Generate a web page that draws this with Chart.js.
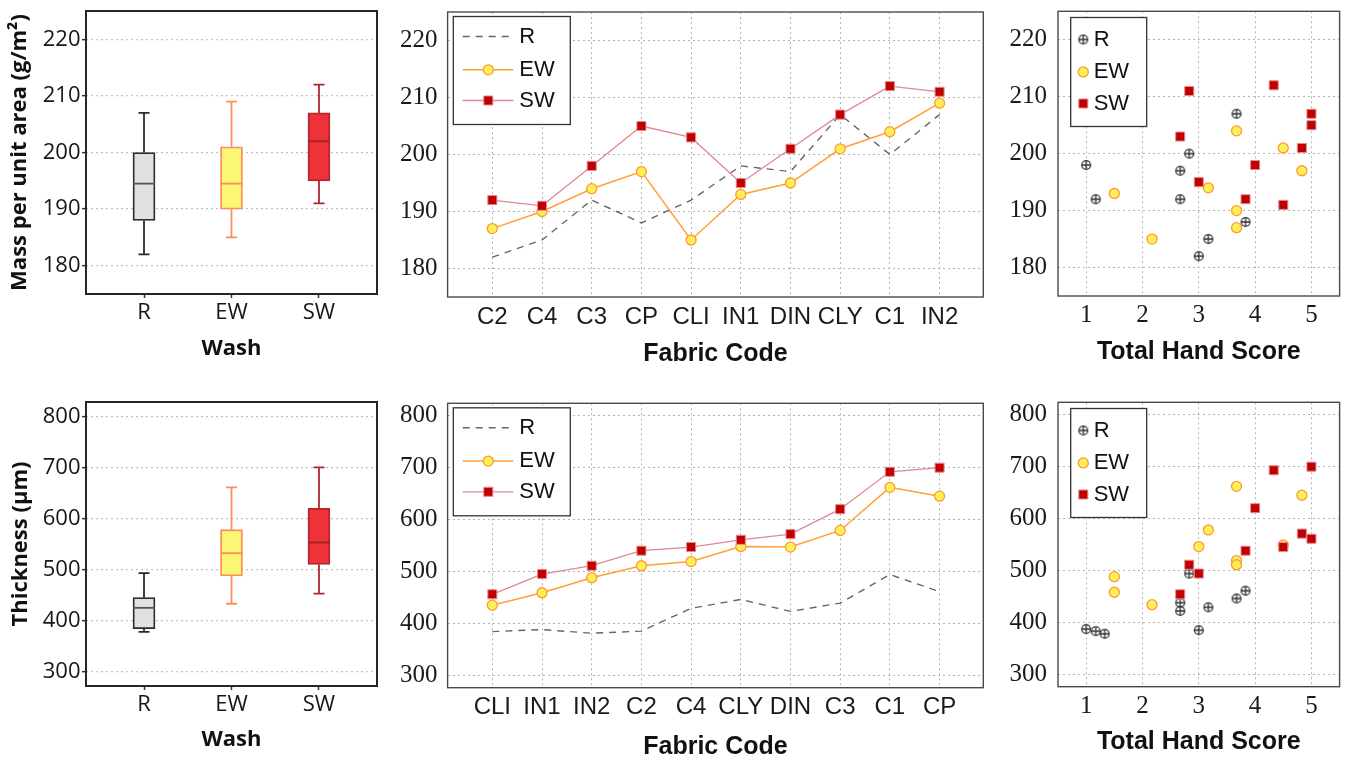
<!DOCTYPE html>
<html><head><meta charset="utf-8">
<script src="https://cdn.jsdelivr.net/npm/chart.js@4/dist/chart.umd.min.js"></script>
<style>
html,body{margin:0;padding:0;background:#fff;overflow:hidden;width:1347px;height:758px;}
canvas{position:absolute;}
</style></head><body>
<canvas id="cA" width="400" height="390" style="left:0px;top:0px;width:400px;height:390px"></canvas>
<canvas id="cB" width="610" height="390" style="left:390px;top:0px;width:610px;height:390px"></canvas>
<canvas id="cC" width="347" height="390" style="left:1000px;top:0px;width:347px;height:390px"></canvas>
<canvas id="cD" width="400" height="390" style="left:0px;top:379px;width:400px;height:390px"></canvas>
<canvas id="cE" width="610" height="390" style="left:390px;top:379px;width:610px;height:390px"></canvas>
<canvas id="cF" width="347" height="390" style="left:1000px;top:379px;width:347px;height:390px"></canvas>
<script>
// ---------------- DATA ----------------
const washLabels = ['R', 'EW', 'SW'];
const washPos = [1, 2, 3];

// Box plots: mass per unit area
const massBoxMin = [182, 185, 191];
const massBoxQ1  = [188, 190, 195];
const massBoxMed = [194.5, 194.5, 202];
const massBoxQ3  = [200, 201, 207];
const massBoxMax = [207, 209, 212];
// Box plots: thickness
const thickBoxMin = [378, 433, 453];
const thickBoxQ1  = [384, 487.5, 510];
const thickBoxMed = [425, 532, 553];
const thickBoxQ3  = [445, 578, 620];
const thickBoxMax = [493, 661, 700];

const massTicks  = [180, 190, 200, 210, 220];
const thickTicks = [300, 400, 500, 600, 700, 800];

// Line charts: mass by fabric
const massFabrics = ['C2', 'C4', 'C3', 'CP', 'CLI', 'IN1', 'DIN', 'CLY', 'C1', 'IN2'];
const massR  = [182, 185, 192, 188, 192, 198, 197, 207, 200, 207];
const massEW = [187, 190, 194, 197, 185, 193, 195, 201, 204, 209];
const massSW = [192, 191, 198, 205, 203, 195, 201, 207, 212, 211];
// Line charts: thickness by fabric
const thickFabrics = ['CLI', 'IN1', 'IN2', 'C2', 'C4', 'CLY', 'DIN', 'C3', 'C1', 'CP'];
const thickR  = [384, 388, 381, 385, 429, 446, 423, 439, 494, 461];
const thickEW = [435, 459, 488, 511, 519, 548, 547, 579, 662, 645];
const thickSW = [456, 495, 511, 540, 547, 561, 572, 620, 692, 700];

// Scatter: total hand score vs mass
const handTicks = [1, 2, 3, 4, 5];
const massHandR_x  = [1, 1.17, 2.67, 2.67, 2.83, 3, 3.17, 3.67, 3.83];
const massHandR_y  = [198, 192, 197, 192, 200, 182, 185, 207, 188];
const massHandEW_x = [1.5, 2.17, 3.17, 3.67, 3.67, 3.67, 4.5, 4.83];
const massHandEW_y = [193, 185, 194, 204, 190, 187, 201, 197];
const massHandSW_x = [2.83, 2.67, 3, 4.33, 5, 5, 4.83, 4, 3.83, 4.5];
const massHandSW_y = [211, 203, 195, 212, 207, 205, 201, 198, 192, 191];
// Scatter: total hand score vs thickness
const thickHandR_x  = [1, 1.17, 1.33, 2.67, 2.67, 2.83, 3, 3.17, 3.67, 3.83];
const thickHandR_y  = [387, 383, 378, 438, 422, 494, 385, 429, 446, 461];
const thickHandEW_x = [1.5, 1.5, 2.17, 3, 3.17, 3.67, 3.67, 3.67, 4.83, 4.5];
const thickHandEW_y = [488, 458, 434, 546, 578, 662, 519, 511, 645, 549];
const thickHandSW_x = [2.67, 2.83, 3, 3.83, 4, 4.33, 5, 4.5, 4.83, 5];
const thickHandSW_y = [454, 511, 494, 538, 620, 693, 700, 545, 571, 561];

// ---------------- STYLE ----------------
const boxFill = ['#e1e1e1', '#fbf673', '#ef3139'];
const boxLine = ['#2b2b2b', '#ff8c5e', '#b3252b'];
const medLine = ['#555555', '#ff8c5e', '#a52127'];
const SANS_L = 'Open Sans';
const SANS = 'Liberation Sans';
const SERIF = 'Liberation Serif';

const oplus = (function () {
  const c = document.createElement('canvas');
  c.width = 12; c.height = 12;
  const g = c.getContext('2d');
  g.strokeStyle = '#333'; g.lineWidth = 1.3;
  g.beginPath(); g.arc(6, 6, 4.4, 0, 2 * Math.PI); g.stroke();
  g.beginPath(); g.moveTo(1.6, 6); g.lineTo(10.4, 6); g.moveTo(6, 1.6); g.lineTo(6, 10.4); g.stroke();
  return c;
})();

// ---------------- PLUGINS ----------------
const framePlugin = {
  id: 'frame',
  afterDraw(chart, args, o) {
    const { ctx, chartArea: a } = chart;
    ctx.save();
    ctx.strokeStyle = o.color; ctx.lineWidth = o.width;
    ctx.strokeRect(a.left, a.top, a.right - a.left, a.bottom - a.top);
    ctx.restore();
  }
};

const whiskerPlugin = {
  id: 'whisk',
  afterDatasetsDraw(chart, args, o) {
    const { ctx } = chart;
    const xs = chart.scales.x, ys = chart.scales.y;
    ctx.save();
    ctx.lineWidth = 1.8;
    o.pos.forEach((p, i) => {
      const x = xs.getPixelForValue(p);
      const yMin = ys.getPixelForValue(o.min[i]), yMax = ys.getPixelForValue(o.max[i]);
      const yQ1 = ys.getPixelForValue(o.q1[i]), yQ3 = ys.getPixelForValue(o.q3[i]);
      const yMed = ys.getPixelForValue(o.med[i]);
      ctx.strokeStyle = o.colors[i];
      ctx.beginPath();
      ctx.moveTo(x, yQ3); ctx.lineTo(x, yMax);
      ctx.moveTo(x - o.cap, yMax); ctx.lineTo(x + o.cap, yMax);
      ctx.moveTo(x, yQ1); ctx.lineTo(x, yMin);
      ctx.moveTo(x - o.cap, yMin); ctx.lineTo(x + o.cap, yMin);
      ctx.stroke();
      ctx.strokeStyle = o.medColors[i];
      ctx.beginPath();
      ctx.moveTo(x - o.half, yMed); ctx.lineTo(x + o.half, yMed);
      ctx.stroke();
    });
    ctx.restore();
  }
};

const legendPlugin = {
  id: 'legbox',
  afterDraw(chart, args, o) {
    const { ctx, chartArea: a } = chart;
    const bx = a.left + o.dx, by = a.top + o.dy;
    ctx.save();
    ctx.fillStyle = '#fff'; ctx.fillRect(bx, by, o.w, o.h);
    ctx.strokeStyle = '#333'; ctx.lineWidth = 1.3; ctx.strokeRect(bx, by, o.w, o.h);
    chart.data.datasets.forEach((ds, i) => {
      const y = by + o.rows[i];
      if (o.lines) {
        ctx.save();
        ctx.strokeStyle = ds.borderColor; ctx.lineWidth = ds.borderWidth;
        ctx.setLineDash(ds.borderDash || []);
        ctx.beginPath(); ctx.moveTo(bx + o.lx1, y); ctx.lineTo(bx + o.lx2, y); ctx.stroke();
        ctx.restore();
      }
      const r = ds.pointRadius;
      if (r > 0) {
        ctx.save();
        ctx.fillStyle = o.lines ? ds.pointBackgroundColor : ds.backgroundColor;
        ctx.strokeStyle = o.lines ? ds.pointBorderColor : ds.borderColor;
        const bw = o.lines ? ds.pointBorderWidth : (ds.borderWidth || 0);
        ctx.lineWidth = bw;
        Chart.helpers.drawPoint(ctx, { pointStyle: ds.pointStyle, radius: r, borderWidth: bw, rotation: 0 }, bx + o.mx, y);
        ctx.restore();
      }
      ctx.fillStyle = '#111';
      ctx.font = '22px "' + SANS + '"';
      ctx.textBaseline = 'middle'; ctx.textAlign = 'left';
      ctx.fillText(ds.label, bx + o.tx, y);
    });
    ctx.restore();
  }
};

// ---------------- HELPERS ----------------
const pts = (xs, ys) => xs.map((x, i) => ({ x, y: ys[i] }));
const idx = arr => arr.map((_, i) => i + 1);
const fixTicks = vals => (s) => { s.ticks = vals.map(v => ({ value: v })); };
const fitX = h => (s) => { s.height = h; s.paddingLeft = 0; s.paddingRight = 0; s.paddingTop = 0; s.paddingBottom = 0; };
const fitY = w => (s) => { s.width = w; s.paddingTop = 0; s.paddingBottom = 0; s.paddingLeft = 0; s.paddingRight = 0; };

function boxChart(id, top, xH, xTitlePad, yTitlePad, ymin, ymax, yticks, ytitle, st) {
  return new Chart(document.getElementById(id), {
    type: 'bar',
    data: {
      datasets: [{
        data: washPos.map((p, i) => ({ x: p, y: [st.q1[i], st.q3[i]] })),
        backgroundColor: boxFill, borderColor: boxLine, borderWidth: 1.8,
        borderSkipped: false, barThickness: 22
      }]
    },
    options: {
      responsive: false, animation: false, devicePixelRatio: 1,
      layout: { padding: { left: 0, top: top, right: 23, bottom: 0 } },
      plugins: {
        legend: { display: false }, tooltip: { enabled: false },
        frame: { color: '#262626', width: 2 },
        whisk: { pos: washPos, min: st.min, q1: st.q1, med: st.med, q3: st.q3, max: st.max,
                 colors: boxLine, medColors: medLine, cap: 5.5, half: 11 }
      },
      scales: {
        x: {
          type: 'linear', min: 0.337, max: 3.663, offset: false,
          afterBuildTicks: fixTicks(washPos),
          afterFit: fitX(xH),
          ticks: { callback: v => washLabels[v - 1], font: { family: SANS_L, size: 22 }, color: '#161616',
                   padding: 2, autoSkip: false, maxRotation: 0, minRotation: 0 },
          grid: { offset: false, drawOnChartArea: false, drawTicks: true, tickLength: 4, tickColor: '#333', tickWidth: 1.5 },
          border: { display: false },
          title: { display: true, text: 'Wash', color: '#111',
                   font: { family: SANS_L, size: 22, weight: 'bold' }, padding: { top: 0, bottom: xTitlePad } }
        },
        y: {
          min: ymin, max: ymax,
          afterBuildTicks: fixTicks(yticks),
          afterFit: fitY(86),
          ticks: { font: { family: SANS_L, size: 22 }, color: '#161616', padding: 1.5 },
          grid: { color: '#c2c2c2', lineWidth: 1.3, drawTicks: true, tickLength: 4, tickColor: '#333', tickWidth: 1.5, tickBorderDash: [] },
          border: { display: false, dash: [2, 3] },
          title: { display: true, text: ytitle, color: '#111',
                   font: { family: SANS_L, size: 22, weight: 'bold' }, padding: { top: yTitlePad, bottom: 0 } }
        }
      }
    },
    plugins: [framePlugin, whiskerPlugin]
  });
}

const gridMid = { color: '#b4b4b4', lineWidth: 1, drawTicks: false };
const borderMid = { display: false, dash: [2, 3] };

function lineChart(id, top, xH, xTitlePad, ymin, ymax, yticks, cats, r, ew, sw) {
  const xi = idx(cats);
  return new Chart(document.getElementById(id), {
    type: 'line',
    data: {
      datasets: [
        { label: 'R', data: pts(xi, r), borderColor: '#666666', borderDash: [7, 6], borderWidth: 1.4,
          pointRadius: 0, pointHoverRadius: 0, order: 3 },
        { label: 'EW', data: pts(xi, ew), borderColor: '#ffa033', borderWidth: 1.5,
          pointStyle: 'circle', pointRadius: 5, pointHoverRadius: 5,
          pointBackgroundColor: '#ffef5a', pointBorderColor: '#ff9a2a', pointBorderWidth: 1.3, order: 2 },
        { label: 'SW', data: pts(xi, sw), borderColor: '#dc8a90', borderWidth: 1.3,
          pointStyle: 'rect', pointRadius: 6.4, pointHoverRadius: 6.4,
          pointBackgroundColor: '#c00000', pointBorderColor: '#e48a90', pointBorderWidth: 1, order: 1 }
      ]
    },
    options: {
      responsive: false, animation: false, devicePixelRatio: 1,
      layout: { padding: { left: 0, top: top, right: 16.7, bottom: 0 } },
      elements: { line: { tension: 0 } },
      plugins: {
        legend: { display: false }, tooltip: { enabled: false },
        frame: { color: '#4a4a4a', width: 1.4 },
        legbox: { lines: true, dx: 5.7, dy: 4.5, w: 117, h: 108, rows: [20, 53.3, 84],
                  lx1: 9.4, lx2: 60, mx: 35, tx: 66 }
      },
      scales: {
        x: {
          type: 'linear', min: 0.1, max: 10.88,
          afterBuildTicks: fixTicks(xi),
          afterFit: fitX(xH),
          ticks: { callback: v => cats[v - 1], font: { family: SANS, size: 24 }, color: '#1a1a1a',
                   padding: 5.5, autoSkip: false, maxRotation: 0, minRotation: 0 },
          grid: gridMid, border: borderMid,
          title: { display: true, text: 'Fabric Code', color: '#111',
                   font: { family: SANS, size: 25, weight: 'bold' }, padding: { top: 0, bottom: xTitlePad } }
        },
        y: {
          min: ymin, max: ymax,
          afterBuildTicks: fixTicks(yticks),
          afterFit: fitY(57.6),
          ticks: { font: { family: SERIF, size: 25 }, color: '#1a1a1a', padding: 10 },
          grid: gridMid, border: borderMid
        }
      }
    },
    plugins: [framePlugin, legendPlugin]
  });
}

function scatterChart(id, top, xH, xTitlePad, ymin, ymax, yticks, rx, ry, ewx, ewy, swx, swy) {
  return new Chart(document.getElementById(id), {
    type: 'scatter',
    data: {
      datasets: [
        { label: 'R', data: pts(rx, ry), pointStyle: oplus, pointRadius: 5, pointHoverRadius: 5,
          backgroundColor: '#444', borderColor: '#444', borderWidth: 0, order: 3 },
        { label: 'EW', data: pts(ewx, ewy), pointStyle: 'circle', pointRadius: 5, pointHoverRadius: 5,
          backgroundColor: '#ffef5a', borderColor: '#ff9a2a', borderWidth: 1.3, order: 2 },
        { label: 'SW', data: pts(swx, swy), pointStyle: 'rect', pointRadius: 6.4, pointHoverRadius: 6.4,
          backgroundColor: '#c00000', borderColor: '#e48a90', borderWidth: 1, order: 1 }
      ]
    },
    options: {
      responsive: false, animation: false, devicePixelRatio: 1,
      layout: { padding: { left: 0, top: top, right: 3.7, bottom: 0 } },
      plugins: {
        legend: { display: false }, tooltip: { enabled: false },
        frame: { color: '#4a4a4a', width: 1.4 },
        legbox: { lines: false, dx: 12.7, dy: 6.2, w: 76, h: 109, rows: [22, 54.4, 86], mx: 12.6, tx: 23 }
      },
      scales: {
        x: {
          type: 'linear', min: 0.5, max: 5.5,
          afterBuildTicks: fixTicks(handTicks),
          afterFit: fitX(xH),
          ticks: { font: { family: SERIF, size: 25 }, color: '#1a1a1a', padding: 4.5,
                   autoSkip: false, maxRotation: 0, minRotation: 0 },
          grid: gridMid, border: borderMid,
          title: { display: true, text: 'Total Hand Score', color: '#111',
                   font: { family: SANS, size: 25, weight: 'bold' }, padding: { top: 0, bottom: xTitlePad } }
        },
        y: {
          min: ymin, max: ymax,
          afterBuildTicks: fixTicks(yticks),
          afterFit: fitY(58),
          ticks: { font: { family: SERIF, size: 25 }, color: '#1a1a1a', padding: 11 },
          grid: gridMid, border: borderMid
        }
      }
    },
    plugins: [framePlugin, legendPlugin]
  });
}

// ---------------- CHARTS ----------------
boxChart('cA', 11, 96, 27.8, 6.8, 175, 225, massTicks, 'Mass per unit area (g/m²)',
  { min: massBoxMin, q1: massBoxQ1, med: massBoxMed, q3: massBoxQ3, max: massBoxMax });
boxChart('cD', 23, 83, 15.8, 7.8, 272, 828, thickTicks, 'Thickness (µm)',
  { min: thickBoxMin, q1: thickBoxQ1, med: thickBoxMed, q3: thickBoxQ3, max: thickBoxMax });

lineChart('cB', 12, 93, 21, 175, 225, massTicks, massFabrics, massR, massEW, massSW);
lineChart('cE', 24.3, 81.3, 7, 276, 824, thickTicks, thickFabrics, thickR, thickEW, thickSW);

scatterChart('cC', 11.3, 94, 22.5, 175, 225, massTicks,
  massHandR_x, massHandR_y, massHandEW_x, massHandEW_y, massHandSW_x, massHandSW_y);
scatterChart('cF', 23.3, 82.3, 11.5, 276, 824, thickTicks,
  thickHandR_x, thickHandR_y, thickHandEW_x, thickHandEW_y, thickHandSW_x, thickHandSW_y);
</script>
</body></html>
